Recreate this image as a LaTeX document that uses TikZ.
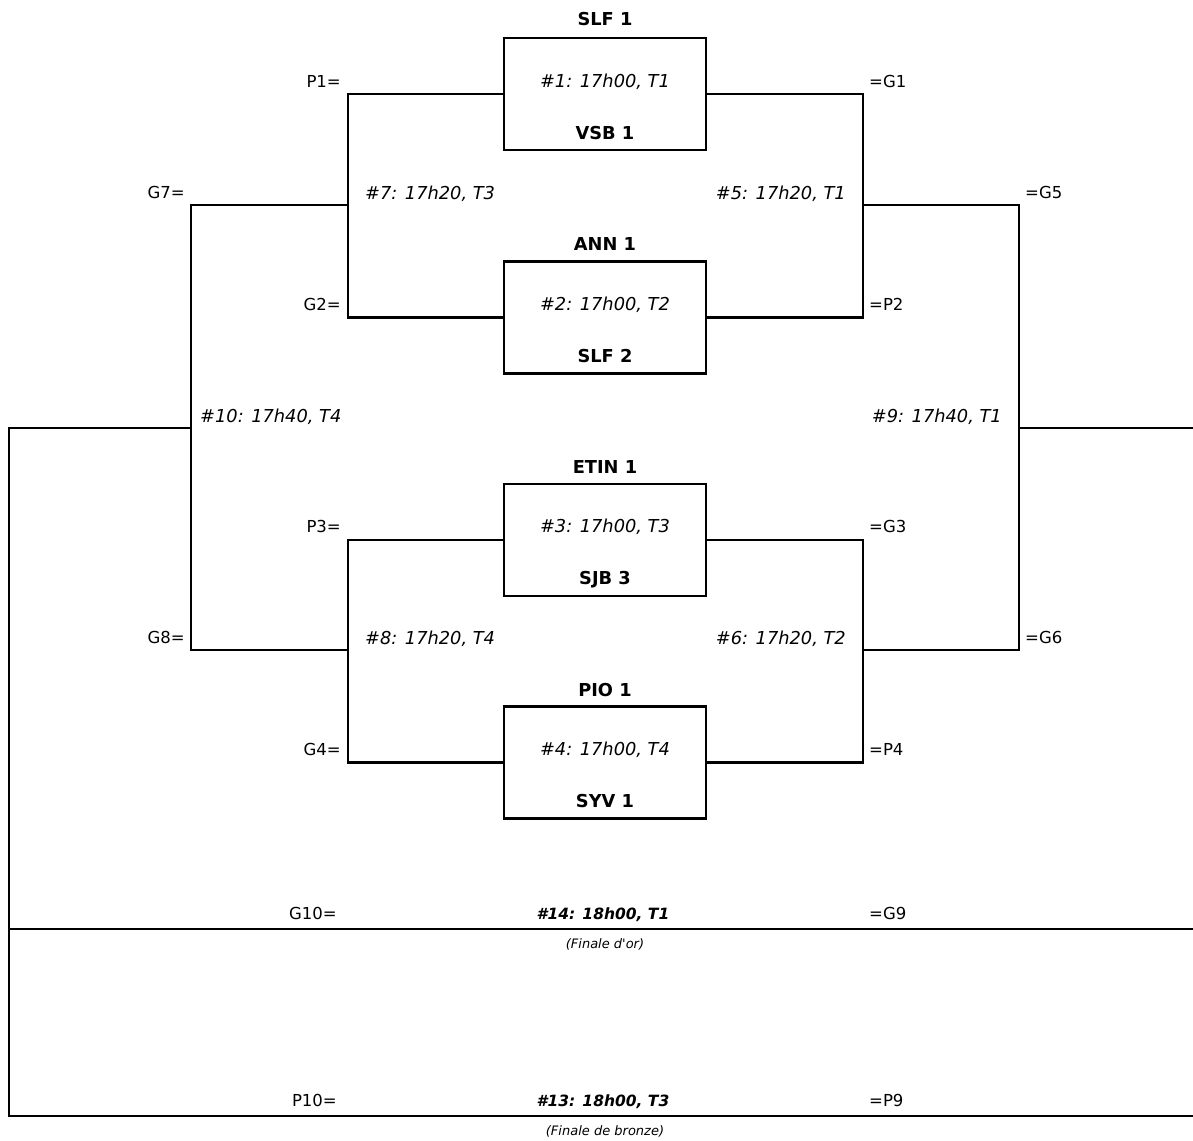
\documentclass[tikz,border=0pt]{standalone}
\usepackage{fontspec}
\setmainfont{DejaVu Sans}
\begin{document}
\begin{tikzpicture}[x=1pt,y=-1pt,
  line width=2.4pt,
  lbl/.style={inner sep=0pt,font=\fontsize{16.5}{20}\selectfont},
  team/.style={lbl,anchor=base,font=\fontsize{17.8}{20}\selectfont\bfseries},
  game/.style={lbl,anchor=base,font=\fontsize{17.8}{20}\selectfont\itshape},
  final/.style={lbl,anchor=base,font=\fontsize{15.5}{20}\selectfont\bfseries\itshape},
  note/.style={lbl,anchor=base,font=\fontsize{13}{15}\selectfont\itshape},
  lside/.style={lbl,anchor=base east},
  rside/.style={lbl,anchor=base west},
  matchbox/.style={draw,rectangle,minimum width=202pt,minimum height=112pt,inner sep=0pt,line width=2.4pt}]
\useasboundingbox (0,0) rectangle (1193,1140);

% match boxes
\node[matchbox] (m1) at (605,94) {};
\node[matchbox] (m2) at (605,317.5) {};
\node[matchbox] (m3) at (605,540) {};
\node[matchbox] (m4) at (605,762.5) {};

% teams and game labels in boxes
\node[team] (t1a) at (605,26) {SLF 1};
\node[game] (g1) at (605,87) {\#1: 17h00, T1};
\node[team] (t1b) at (605,139) {VSB 1};
\node[team] (t2a) at (605,250) {ANN 1};
\node[game] (g2) at (605,310) {\#2: 17h00, T2};
\node[team] (t2b) at (605,362) {SLF 2};
\node[team] (t3a) at (605,473) {ETIN 1};
\node[game] (g3) at (605,532) {\#3: 17h00, T3};
\node[team] (t3b) at (605,584) {SJB 3};
\node[team] (t4a) at (605,696) {PIO 1};
\node[game] (g4) at (605,755) {\#4: 17h00, T4};
\node[team] (t4b) at (605,807) {SYV 1};

% side labels
\node[lside] (sp1) at (342,87) {P1=};
\node[rside] (sg1) at (868,87) {=G1};
\node[lside] (sg2) at (342,310) {G2=};
\node[rside] (sp2) at (868,310) {=P2};
\node[lside] (sp3) at (342,532) {P3=};
\node[rside] (sg3) at (868,532) {=G3};
\node[lside] (sg4) at (342,755) {G4=};
\node[rside] (sp4) at (868,755) {=P4};
\node[lside] (sg7) at (186,198) {G7=};
\node[rside] (sg5) at (1024,198) {=G5};
\node[lside] (sg8) at (186,643) {G8=};
\node[rside] (sg6) at (1024,643) {=G6};

% round 2 and semi labels
\node[game,anchor=base west] (g7) at (364,199) {\#7: 17h20, T3};
\node[game,anchor=base east] (g5) at (847,199) {\#5: 17h20, T1};
\node[game,anchor=base west] (g8) at (364,644) {\#8: 17h20, T4};
\node[game,anchor=base east] (g6) at (847,644) {\#6: 17h20, T2};
\node[game,anchor=base west] (g10) at (199,422) {\#10: 17h40, T4};
\node[game,anchor=base east] (g9) at (1003,422) {\#9: 17h40, T1};

% finals
\node[lside] (sg10) at (338,919) {G10=};
\node[final] (g14) at (603,919) {\#14: 18h00, T1};
\node[rside] (sg9) at (868,919) {=G9};
\node[note] (n14) at (605,948) {(Finale d\XeTeXglyph\XeTeXcharglyph"0027 or)};
\node[lside] (sp10) at (338,1106) {P10=};
\node[final] (g13) at (603,1106) {\#13: 18h00, T3};
\node[rside] (sp9) at (868,1106) {=P9};
\node[note] (n13) at (605,1135) {(Finale de bronze)};

% coordinates
\coordinate (a1) at (348,94);
\coordinate (a2) at (348,317.5);
\coordinate (a3) at (348,540);
\coordinate (a4) at (348,762.5);
\coordinate (b1) at (863,94);
\coordinate (b2) at (863,317.5);
\coordinate (b3) at (863,540);
\coordinate (b4) at (863,762.5);
\coordinate (a7) at (348,205);
\coordinate (a8) at (348,650);
\coordinate (b5) at (863,205);
\coordinate (b6) at (863,650);
\coordinate (c7) at (191,205);
\coordinate (c8) at (191,650);
\coordinate (d5) at (1019,205);
\coordinate (d6) at (1019,650);
\coordinate (c10) at (191,428);
\coordinate (d9) at (1019,428);
\coordinate (e10) at (9,428);
\coordinate (e9) at (1193,428);
\coordinate (f1) at (9,929);
\coordinate (f1r) at (1193,929);
\coordinate (f2) at (9,1116);
\coordinate (f2r) at (1193,1116);

% connectors
\draw (m1.west) -- (a1) -- (a2) -- (m2.west);
\draw (m1.east) -- (b1) -- (b2) -- (m2.east);
\draw (m3.west) -- (a3) -- (a4) -- (m4.west);
\draw (m3.east) -- (b3) -- (b4) -- (m4.east);
\draw (a7) -- (c7) -- (c8) -- (a8);
\draw (b5) -- (d5) -- (d6) -- (b6);
\draw (c10) -- (e10) -- (f2) -- (f2r);
\draw (d9) -- (e9);
\draw (f1) -- (f1r);
\end{tikzpicture}
\end{document}
